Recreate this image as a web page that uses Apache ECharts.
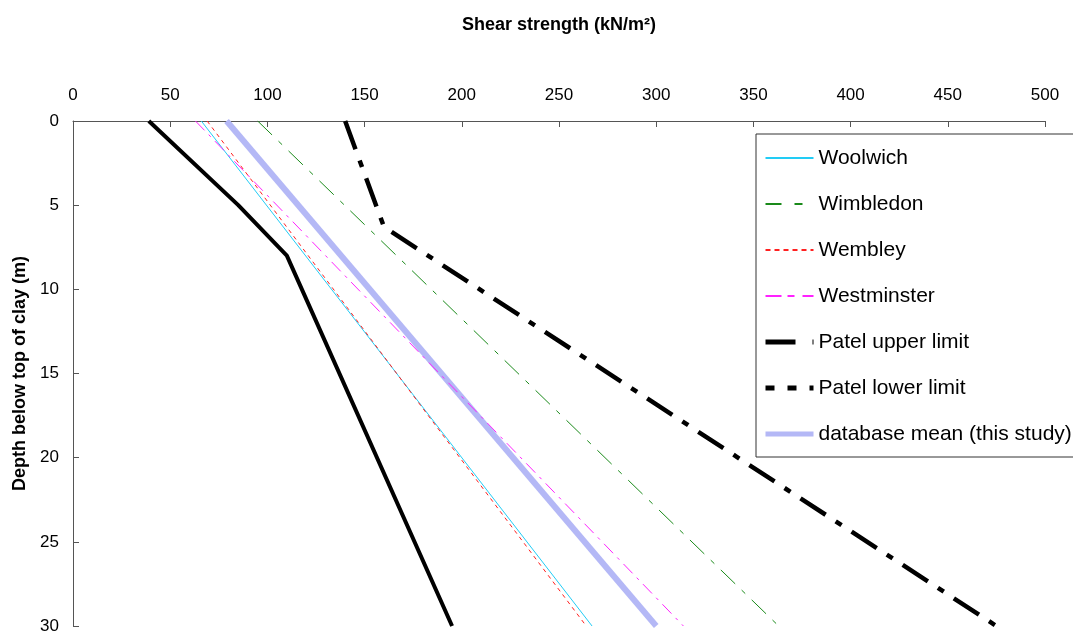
<!DOCTYPE html>
<html>
<head>
<meta charset="utf-8">
<script src="https://cdn.jsdelivr.net/npm/echarts@6/dist/echarts.min.js"></script>
<style>html,body{margin:0;padding:0;background:#fff;}#c{width:1073px;height:635px;}</style>
</head>
<body>
<div id="c"></div>
<script>
// [shear strength kN/m2, depth m]
var woolwich = [[66, 0], [267, 30]];
var wimbledon = [[95, 0], [363, 30]];
var wembley = [[69, 0], [264, 30]];
var westminster = [[63, 0], [314, 30]];
var patelUpper = [[140, 0], [160, 6.3], [475, 30]];
var patelLower = [[39, 0], [85, 5], [110, 8], [195, 30]];
var dbMean = [[79, 0], [300, 30]];
var seriesNames = ['Woolwich', 'Wimbledon', 'Wembley', 'Westminster', 'Patel upper limit', 'Patel lower limit', 'database mean (this study)'];
var xTicks = [0, 50, 100, 150, 200, 250, 300, 350, 400, 450, 500];
var yTicks = [0, 5, 10, 15, 20, 25, 30];

var FONT = 'Liberation Sans, Arial, sans-serif';
function line(name, data, color, width, type, z) {
  return {
    name: name, type: 'line', data: data, symbol: 'none', z: z || 2,
    lineStyle: { color: color, width: width, type: type },
    itemStyle: { color: color },
    animation: false
  };
}
var chart = echarts.init(document.getElementById('c'));
chart.setOption({
  backgroundColor: '#fff',
  animation: false,
  grid: { left: 73, right: 28, top: 121, bottom: 9, containLabel: false },
  xAxis: {
    type: 'value', position: 'top', min: xTicks[0], max: xTicks[xTicks.length - 1], interval: 50,
    name: 'Shear strength (kN/m²)', nameLocation: 'middle', nameGap: 87,
    nameTextStyle: { fontFamily: FONT, fontSize: 18, fontWeight: 'bold', color: '#000' },
    axisLine: { show: true, lineStyle: { color: '#555', width: 1 } },
    axisTick: { show: true, inside: true, length: 6, lineStyle: { color: '#555' } },
    axisLabel: { fontFamily: FONT, fontSize: 17, color: '#000', margin: 17 },
    splitLine: { show: false }
  },
  yAxis: {
    type: 'value', inverse: true, min: yTicks[0], max: yTicks[yTicks.length - 1], interval: 5,
    name: 'Depth below top of clay (m)', nameLocation: 'middle', nameGap: 42, nameRotate: 90,
    nameTextStyle: { fontFamily: FONT, fontSize: 18, fontWeight: 'bold', color: '#000' },
    axisLine: { show: true, lineStyle: { color: '#555', width: 1 } },
    axisTick: { show: true, inside: true, length: 6, lineStyle: { color: '#555' } },
    axisLabel: { fontFamily: FONT, fontSize: 17, color: '#000', margin: 14 },
    splitLine: { show: false }
  },
  legend: {
    orient: 'vertical', left: 756, top: 134,
    padding: [12, 20, 11, 7],
    itemWidth: 48, itemHeight: 20, itemGap: 22,
    backgroundColor: '#fff', borderColor: '#333', borderWidth: 1,
    itemStyle: { opacity: 0 },
    textStyle: { fontFamily: FONT, fontSize: 21, color: '#000', lineHeight: 24 },
    data: [
      { name: seriesNames[0] },
      { name: seriesNames[1], lineStyle: { type: [16, 13, 8, 20] } },
      { name: seriesNames[2], lineStyle: { type: [5, 4] } },
      { name: seriesNames[3], lineStyle: { type: [16, 6, 7, 8] } },
      { name: seriesNames[4], lineStyle: { type: [30, 17, 2, 10], width: 5 } },
      { name: seriesNames[5], lineStyle: { type: [9, 13], width: 5 } },
      { name: seriesNames[6], lineStyle: { width: 5 } }
    ]
  },
  series: [
    line(seriesNames[0], woolwich, '#22ccf5', 1, 'solid', 3),
    line(seriesNames[1], wimbledon, '#1a8a1a', 1, [20, 9, 5, 9], 3),
    line(seriesNames[2], wembley, '#ff2020', 1, [4, 4], 3),
    line(seriesNames[3], westminster, '#ff22ff', 1, [13, 6, 3, 6], 3),
    line(seriesNames[4], patelUpper, '#000', 4.5, [30, 12, 7, 12], 4),
    line(seriesNames[5], patelLower, '#000', 4, 'solid', 4),
    line(seriesNames[6], dbMean, '#b4b8f6', 6, 'solid', 2)
  ]
});
</script>
</body>
</html>
